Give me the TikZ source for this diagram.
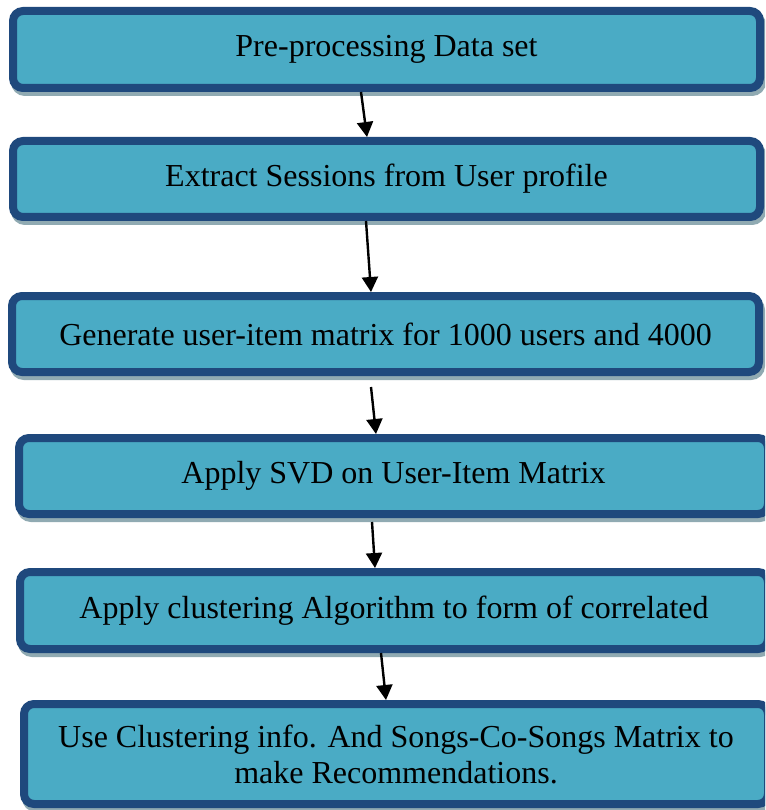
\documentclass[tikz,border=0pt]{standalone}
\usepackage{fontspec}
\setmainfont{Liberation Serif}
\usetikzlibrary{arrows.meta,shadows}
\definecolor{boxfill}{HTML}{4AABC5}
\definecolor{boxline}{HTML}{1F497D}
\definecolor{shadowc}{HTML}{90AAB2}
\begin{document}
\begin{tikzpicture}[x=1pt,y=-1pt,
  stepbox/.style={draw=boxline, fill=boxfill, line width=8pt, rounded corners=10pt,
    inner sep=0pt, align=center, text=black, font=\fontsize{32}{36}\selectfont,
    drop shadow={shadow xshift=2pt, shadow yshift=-4pt, fill=shadowc, draw=shadowc, line width=8pt, opacity=1}},
  conn/.style={-{Triangle[length=15pt,width=16pt]}, line width=2.4pt, black}]
\useasboundingbox (0,0) rectangle (765,810);
\clip (0,0) rectangle (765,810);
\node[stepbox, minimum width=747pt, minimum height=77pt] (b1) at (386.5,49.5) {Pre-processing Data set};
\node[stepbox, minimum width=747pt, minimum height=76pt] (b2) at (386.5,179) {Extract Sessions from User profile};
\node[stepbox, minimum width=747pt, minimum height=76pt] (b3) at (385.5,334) {Generate user-item matrix for 1000 users and 4000};
\node[stepbox, minimum width=749pt, minimum height=76pt] (b4) at (393.5,476) {Apply SVD on User-Item Matrix};
\node[stepbox, minimum width=748pt, minimum height=77pt] (b5) at (394,610.5) {Apply clustering Algorithm to form of correlated};
\node[stepbox, minimum width=744pt, minimum height=100pt] (b6) at (396,754) {Use Clustering info. And Songs-Co-Songs Matrix to\\make Recommendations.};
\draw[conn] ([xshift=-25.5pt]b1.south) -- ([xshift=-19.5pt]b2.north);
\draw[conn] ([xshift=-20.5pt]b2.south) -- ([xshift=-14.5pt]b3.north);
\draw[conn] ([xshift=-14.5pt,yshift=-11pt]b3.south) -- ([xshift=-17.5pt]b4.north);
\draw[conn] ([xshift=-21.5pt,yshift=-4pt]b4.south) -- ([xshift=-19pt]b5.north);
\draw[conn] ([xshift=-13pt]b5.south) -- ([xshift=-10pt]b6.north);
\end{tikzpicture}
\end{document}
